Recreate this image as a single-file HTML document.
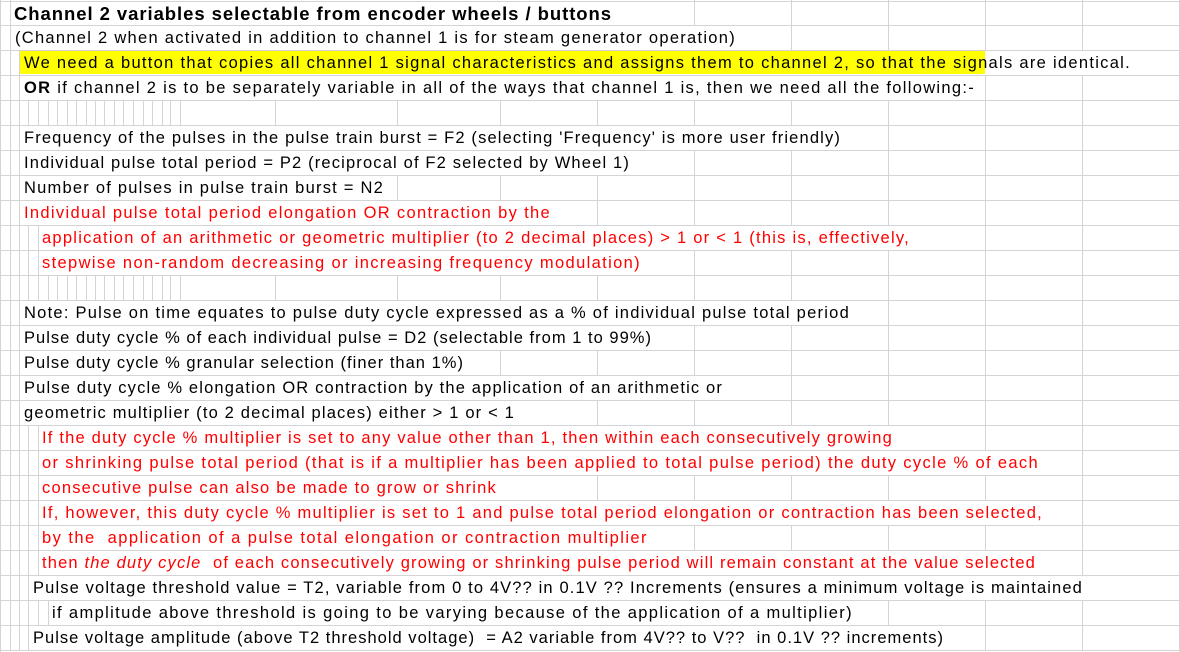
<!DOCTYPE html>
<html><head><meta charset="utf-8">
<style>
html,body{margin:0;padding:0;background:#fff;}
body{width:1180px;height:652px;position:relative;overflow:hidden;font-family:"Liberation Sans",Arial,sans-serif;}
.h{position:absolute;left:0;width:1180px;height:1px;background:#d4d4d4;}
.v{position:absolute;width:1px;height:25px;background:#d4d4d4;}
.t{position:absolute;white-space:nowrap;font-size:16.5px;line-height:25px;height:25px;color:#000;}
.r{color:#ff0000;}
.b{font-weight:bold;font-size:18.5px;}
.y{position:absolute;background:#ffff00;height:23px;}
</style></head><body>
<script>
function el(cls,st,html){var d=document.createElement('div');d.className=cls;d.style.cssText=st;if(html)d.innerHTML=html;document.body.appendChild(d);return d;}
var cols=[180,275,397,500,597,694,791,888,985,1082];
var small=[10,19,28,38,48,57,67,76,86,95,104,114,123,133,143,152,162,170];
var L2=[10,19],L4=[10,19,28,38];
var rows=[
{l:[10],x:14,e:612,h:'Channel 2 variables selectable from encoder wheels / buttons',c:'b'},
{l:[10],x:15,e:736,h:'(Channel 2 when activated in addition to channel 1 is for steam generator operation)'},
{l:L2,x:24,e:1131,h:'We need a button that copies all channel 1 signal characteristics and assigns them to channel 2, so that the signals are identical.',yel:[19,985],noLines:true},
{l:L2,x:24,e:975,h:'<b>OR</b> if channel 2 is to be separately variable in all of the ways that channel 1 is, then we need all the following:-'},
{blank:true},
{l:L2,x:24,e:841,h:'Frequency of the pulses in the pulse train burst = F2 (selecting \'Frequency\' is more user friendly)'},
{l:L2,x:24,e:630,h:'Individual pulse total period = P2 (reciprocal of F2 selected by Wheel 1)'},
{l:L2,x:24,e:384,h:'Number of pulses in pulse train burst = N2'},
{l:L2,x:24,e:551,h:'Individual pulse total period elongation OR contraction by the',c:'r'},
{l:L4,x:42,e:910,h:'application of an arithmetic or geometric multiplier (to 2 decimal places) &gt; 1 or &lt; 1 (this is, effectively,',c:'r'},
{l:L4,x:42,e:641,h:'stepwise non-random decreasing or increasing frequency modulation)',c:'r'},
{blank:true},
{l:L2,x:24,e:850,h:'Note: Pulse on time equates to pulse duty cycle expressed as a % of individual pulse total period'},
{l:L2,x:24,e:652,h:'Pulse duty cycle % of each individual pulse = D2 (selectable from 1 to 99%)'},
{l:L2,x:24,e:464,h:'Pulse duty cycle % granular selection (finer than 1%)'},
{l:L2,x:24,e:723,h:'Pulse duty cycle % elongation OR contraction by the application of an arithmetic or'},
{l:L2,x:24,e:515,h:'geometric multiplier (to 2 decimal places) either &gt; 1 or &lt; 1'},
{l:L4,x:42,e:893,h:'If the duty cycle % multiplier is set to any value other than 1, then within each consecutively growing',c:'r'},
{l:L4,x:42,e:1039,h:'or shrinking pulse total period (that is if a multiplier has been applied to total pulse period) the duty cycle % of each',c:'r'},
{l:L4,x:42,e:497,h:'consecutive pulse can also be made to grow or shrink',c:'r'},
{l:L4,x:42,e:1043,h:'If, however, this duty cycle % multiplier is set to 1 and pulse total period elongation or contraction has been selected,',c:'r'},
{l:L4,x:42,e:648,h:'by the&nbsp; application of a pulse total elongation or contraction multiplier',c:'r'},
{l:L4,x:42,e:1036,h:'then <i>the duty cycle</i>&nbsp; of each consecutively growing or shrinking pulse period will remain constant at the value selected',c:'r'},
{l:[10,19,28],x:33,e:1083,h:'Pulse voltage threshold value = T2, variable from 0 to 4V?? in 0.1V ?? Increments (ensures a minimum voltage is maintained'},
{l:[10,19,28,38,48],x:52,e:853,h:'if amplitude above threshold is going to be varying because of the application of a multiplier)'},
{l:[10,19,28],x:33,e:944,h:'Pulse voltage amplitude (above T2 threshold voltage)&nbsp; = A2 variable from 4V?? to V??&nbsp; in 0.1V ?? increments)'}
];
el('h','top:1px');
el('v','left:0;top:0;height:652px');
el('v','left:1179px;top:0;height:652px');
var fits=[];
rows.forEach(function(r,i){
  var y=25*i;
  el('h','top:'+(y+25)+'px');
  if(r.blank){
    small.concat(cols).forEach(function(x){el('v','left:'+x+'px;top:'+y+'px');});
    return;
  }
  if(r.yel){el('y','left:'+r.yel[0]+'px;width:'+(r.yel[1]-r.yel[0])+'px;top:'+(y+1)+'px');}
  r.l.forEach(function(x){el('v','left:'+x+'px;top:'+y+'px');});
  if(!r.noLines){cols.forEach(function(x){if(x>r.e+4)el('v','left:'+x+'px;top:'+y+'px');});}
  var t=el('t '+(r.c||''),'left:'+r.x+'px;top:'+(y+1)+'px',r.h);
  fits.push([t,r.e-r.x]);
});
fits.forEach(function(f){
  var t=f[0],w=t.getBoundingClientRect().width,n=t.textContent.length;
  if(n>1){t.style.letterSpacing=((f[1]-w)/n)+'px';}
});
</script>
</body></html>
